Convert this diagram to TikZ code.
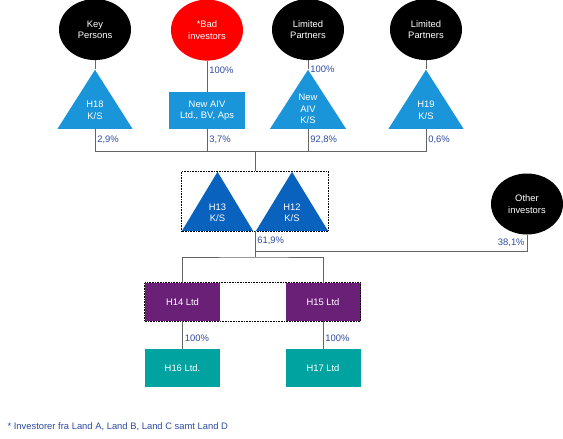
\documentclass[tikz,border=0pt]{standalone}
\usepackage{fontspec}
\setmainfont{Liberation Sans}
\usetikzlibrary{positioning}
\usetikzlibrary{shapes.geometric}
\usetikzlibrary{fit}

\definecolor{fundblue}{RGB}{27,149,217}
\definecolor{holdblue}{RGB}{8,98,190}
\definecolor{ltdpurple}{RGB}{107,32,120}
\definecolor{ltdteal}{RGB}{0,163,160}
\definecolor{badred}{RGB}{255,0,0}
\definecolor{pctblue}{RGB}{45,75,160}
\definecolor{wiregray}{RGB}{100,100,100}

\begin{document}
\begin{tikzpicture}[x=1pt, y=1pt,
    font=\fontsize{9.4}{11.4}\selectfont,
    owner/.style={ellipse, fill=black, text=white, minimum width=72pt, minimum height=61pt, inner sep=0pt, align=center},
    fund/.style={isosceles triangle, shape border rotate=90, isosceles triangle stretches, minimum width=75pt, minimum height=59pt, inner sep=0pt, fill=fundblue, text=white, align=center, anchor=lower side},
    company/.style={rectangle, minimum width=75pt, minimum height=38pt, inner sep=0pt, text=white, align=center},
    pct/.style={text=pctblue, inner sep=2pt},
    group/.style={draw=black, line width=0.8pt, dash pattern=on 0.8pt off 0.8pt, inner sep=0pt},
    wire/.style={draw=wiregray, line width=0.8pt}]
    \useasboundingbox (0,0) rectangle (563,-439);

    % funds and owners
    \node [fund] (h18) at (95,-129) {H18\\K/S};
    \node [company, fill=fundblue, minimum width=76pt, minimum height=37pt] (aiv) at (207,-110.5) {New AIV\\Ltd., BV, Aps};
    \node [fund, minimum width=76pt] (aivks) at (308,-129) {New\\AIV\\K/S};
    \node [fund] (h19) at (426,-129) {H19\\K/S};
    \node [owner] (kp) [above=9pt of h18.apex] {Key\\Persons};
    \node [owner, fill=badred] (bad) [above=31pt of aiv] {*Bad\\investors};
    \node [owner] (lp1) [above=9pt of aivks.apex] {Limited\\Partners};
    \node [owner] (lp2) [above=9pt of h19.apex] {Limited\\Partners};

    % holding
    \node [fund, fill=holdblue, minimum width=71pt] (h13) at (217.5,-231) {H13\\K/S};
    \node [fund, fill=holdblue, minimum width=72pt] (h12) at (292,-231) {H12\\K/S};
    \node [group, fit=(h13.left corner)(h12.right corner)(h13.apex)] (hold) {};
    \node [owner] (other) at (527,-204) {Other\\investors};

    % companies
    \node [company, fill=ltdpurple] (h14) at (182.5,-302) {H14 Ltd};
    \node [company, fill=ltdpurple] (h15) at (323,-302) {H15 Ltd};
    \node [group, fit=(h14)(h15)] (ltd) {};
    \node [company, fill=ltdteal] (h16) [below=28pt of h14] {H16 Ltd.};
    \node [company, fill=ltdteal] (h17) [below=28pt of h15] {H17 Ltd};

    \node [anchor=west, text=pctblue] (note) at (4,-427) {* Investorer fra Land A, Land B, Land C samt Land D};

    % ownership lines
    \coordinate (bus) at (hold.north |- 0,-151);
    \coordinate (split) at (hold.south |- 0,-251);
    \coordinate (bus2) at (hold.south |- 0,-257);
    \draw [wire] (kp) -- (h18.apex);
    \draw [wire] (bad) -- node [pct, right, pos=0.3] {100\%} (aiv);
    \draw [wire] (lp1) -- node [pct, right, pos=1] {100\%} (aivks.apex);
    \draw [wire] (lp2) -- (h19.apex);
    \draw [wire] (h18.lower side) -- node [pct, right] {2,9\%} (h18.lower side |- bus)
        -- (h19.lower side |- bus) -- node [pct, right] {0,6\%} (h19.lower side);
    \draw [wire] (aiv) -- node [pct, right] {3,7\%} (aiv |- bus);
    \draw [wire] (aivks.lower side) -- node [pct, right] {92,8\%} (aivks.lower side |- bus);
    \draw [wire] (bus) -- (hold);
    \draw [wire] (hold.south) -- node [pct, right, pos=0.35] {61,9\%} (bus2);
    \draw [wire] (other) |- node [pct, left, pos=0.25] {38,1\%} (split);
    \draw [wire] (h14) |- (bus2) -| (h15);
    \draw [wire] (h14) -- node [pct, right, pos=0.6] {100\%} (h16);
    \draw [wire] (h15) -- node [pct, right, pos=0.6] {100\%} (h17);
\end{tikzpicture}
\end{document}
